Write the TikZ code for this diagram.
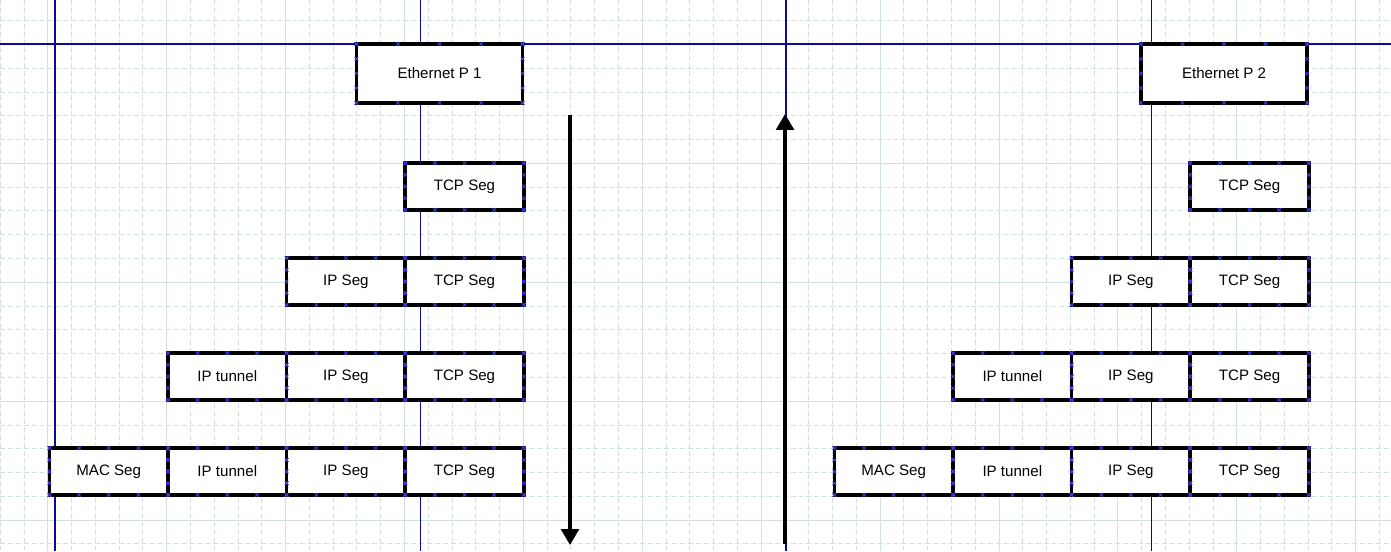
\documentclass[tikz,border=0pt]{standalone}
\usepackage{fontspec}
\setmainfont{Liberation Sans}
\usetikzlibrary{positioning,calc,arrows.meta}

\definecolor{gridcol}{RGB}{208,226,224}
\definecolor{guideblue}{RGB}{10,10,150}
\definecolor{markblue}{RGB}{60,60,235}

% little connection marks on the border of a box
\newcommand{\segmarks}[1]{%
	\foreach \f in {0,0.25,0.5,0.75,1} {
		\draw [mark col] ($(#1.north west)!\f!(#1.north east)$) +(-1.8,-1.8) -- +(1.8,1.8) +(-1.8,1.8) -- +(1.8,-1.8);
		\draw [mark col] ($(#1.south west)!\f!(#1.south east)$) +(-1.8,-1.8) -- +(1.8,1.8) +(-1.8,1.8) -- +(1.8,-1.8);
		\draw [mark col] ($(#1.north west)!\f!(#1.south west)$) +(-1.8,-1.8) -- +(1.8,1.8) +(-1.8,1.8) -- +(1.8,-1.8);
		\draw [mark col] ($(#1.north east)!\f!(#1.south east)$) +(-1.8,-1.8) -- +(1.8,1.8) +(-1.8,1.8) -- +(1.8,-1.8);
	}}

\begin{document}
\begin{tikzpicture}[x=0.02cm, y=-0.02cm,
	seg/.style={draw, fill=white, line width=2pt, outer sep=0pt, minimum width=67.5pt, minimum height=26.6pt, font=\fontsize{8.6}{10}\selectfont},
	eth/.style={seg, minimum width=94.6pt, minimum height=33.4pt},
	gmajor/.style={draw=gridcol, line width=0.55pt},
	gminor/.style={draw=gridcol, line width=0.55pt, dash pattern=on 2.8pt off 1.7pt},
	guide/.style={draw=guideblue, line width=0.75pt},
	mark col/.style={draw=markblue, line width=0.5pt},
	flow/.style={line width=1.9pt, -{Triangle[width=10pt,length=9pt]}}]
	\useasboundingbox [fill=white] (0,0) rectangle (1391,551);
	% background grid
	\foreach \i in {-2,...,56} {
		\pgfmathsetmacro\gx{47.8+23.78*\i}
		\pgfmathtruncatemacro\gm{mod(\i+10,5)}
		\ifnum\gm=0 \draw [gmajor] (\gx,0) -- (\gx,551); \else \draw [gminor] (\gx,0) -- (\gx,551); \fi
	}
	\foreach \j in {-1,...,21} {
		\pgfmathsetmacro\gy{44.5+23.78*\j}
		\pgfmathtruncatemacro\gm{mod(\j+10,5)}
		\ifnum\gm=0 \draw [gmajor] (0,\gy) -- (1391,\gy); \else \draw [gminor] (0,\gy) -- (1391,\gy); \fi
	}
	% guide lines
	\draw [guide] (0,44) -- (1391,44);
	\foreach \gx in {55,420.5,786,1151.5}
		\draw [guide] (\gx,0) -- (\gx,551);

	% left stack
	\node [eth] (eth1) at (439.5,73.5) {Ethernet P 1};
	\node [seg] (l2tcp) at (464.5,186.5) {TCP Seg};
	\node [seg] (l3tcp) at (464.5,281.5) {TCP Seg};
	\node [seg, left=0pt of l3tcp] (l3ip) {IP Seg};
	\node [seg] (l4tcp) at (464.5,376.5) {TCP Seg};
	\node [seg, left=0pt of l4tcp] (l4ip) {IP Seg};
	\node [seg, left=0pt of l4ip] (l4tun) {IP tunnel};
	\node [seg] (l5tcp) at (464.5,471.5) {TCP Seg};
	\node [seg, left=0pt of l5tcp] (l5ip) {IP Seg};
	\node [seg, left=0pt of l5ip] (l5tun) {IP tunnel};
	\node [seg, left=0pt of l5tun] (l5mac) {MAC Seg};

	% right stack
	\node [eth] (eth2) at (1224,73.5) {Ethernet P 2};
	\node [seg] (r2tcp) at (1249.5,186.5) {TCP Seg};
	\node [seg] (r3tcp) at (1249.5,281.5) {TCP Seg};
	\node [seg, left=0pt of r3tcp] (r3ip) {IP Seg};
	\node [seg] (r4tcp) at (1249.5,376.5) {TCP Seg};
	\node [seg, left=0pt of r4tcp] (r4ip) {IP Seg};
	\node [seg, left=0pt of r4ip] (r4tun) {IP tunnel};
	\node [seg] (r5tcp) at (1249.5,471.5) {TCP Seg};
	\node [seg, left=0pt of r5tcp] (r5ip) {IP Seg};
	\node [seg, left=0pt of r5ip] (r5tun) {IP tunnel};
	\node [seg, left=0pt of r5tun] (r5mac) {MAC Seg};

	\foreach \b in {eth1,l2tcp,l3tcp,l3ip,l4tcp,l4ip,l4tun,l5tcp,l5ip,l5tun,l5mac,eth2,r2tcp,r3tcp,r3ip,r4tcp,r4ip,r4tun,r5tcp,r5ip,r5tun,r5mac} {
		\segmarks{\b}
	}

	% direction arrows
	\coordinate (downtop) at (570,115);
	\coordinate (downend) at (570,545);
	\coordinate (upbot) at (785,544);
	\coordinate (uptop) at (785,114);
	\draw [flow] (downtop) -- (downend);
	\draw [flow] (upbot) -- (uptop);
\end{tikzpicture}
\end{document}
